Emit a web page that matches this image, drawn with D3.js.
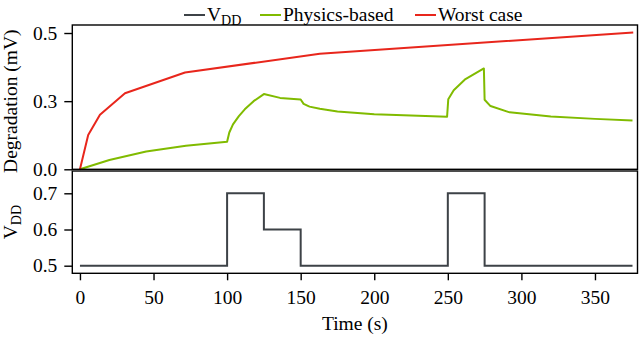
<!DOCTYPE html>
<html><head><meta charset="utf-8">
<script src="https://cdn.jsdelivr.net/npm/d3@7"></script>
<style>body{margin:0;background:#fff}svg{display:block}text{font-family:"Liberation Serif","Times New Roman",serif;fill:#000}</style>
</head><body>
<script>
// ---- data ----
const worstT = [0, 5.6, 13.6, 30.6, 71.4, 163, 376];
const worstV = [0, 0.126, 0.2, 0.279, 0.355, 0.424, 0.502];
const physT = [0, 20, 45, 72, 100, 101.5, 104, 108, 112, 118, 125, 136, 150, 152, 156, 163, 175, 200, 225, 249.5, 250.3, 254, 262, 274.5, 275, 279, 292, 320, 350, 375.5];
const physV = [0, 0.034, 0.065, 0.086, 0.101, 0.135, 0.165, 0.195, 0.22, 0.25, 0.276, 0.262, 0.256, 0.24, 0.23, 0.222, 0.212, 0.202, 0.197, 0.193, 0.257, 0.29, 0.331, 0.37, 0.255, 0.232, 0.209, 0.194, 0.185, 0.179];
const vddT = [0, 100, 125, 150, 250, 275, 375.5];
const vddV = [0.5, 0.7, 0.6, 0.5, 0.7, 0.5, 0.5];
const xTicks = [0, 50, 100, 150, 200, 250, 300, 350];
const topTicks = [0, 0.25, 0.5];
const topTickLabels = ["0.0", "0.3", "0.5"];
const botTicks = [0.5, 0.6, 0.7];
const botTickLabels = ["0.5", "0.6", "0.7"];
const seriesNames = ["V", "Physics-based", "Worst case"];
const colors = {vdd: "#3d4247", phys: "#80bb00", worst: "#e8261c"};

// ---- layout ----
const W = 640, H = 337;
const L = 72.3, R = 637.5;
const topY0 = 25, topY1 = 169.3, botY0 = 171, botY1 = 273.3;
const FS = 19.5;

const svg = d3.select("body").append("svg").attr("width", W).attr("height", H);

const x = d3.scaleLinear().domain([-5.2, 378.9]).range([L, R]);
const yTop = d3.scaleLinear().domain([0, 0.5294]).range([topY1, topY0]);
const yBot = d3.scaleLinear().domain([0.479, 0.7616]).range([botY1, botY0]);

function frame(y0, y1) {
  svg.append("rect").attr("x", L).attr("y", y0).attr("width", R - L).attr("height", y1 - y0)
    .attr("fill", "none").attr("stroke", "#000").attr("stroke-width", 1.4);
}

function styleAxis(g) {
  g.select(".domain").remove();
  g.selectAll(".tick line").attr("stroke", "#000").attr("stroke-width", 1.4);
  g.selectAll(".tick text").attr("font-size", FS).style("font-family", '"Liberation Serif", serif');
}

// top panel lines
const lineTop = d3.line().x(d => x(d[0])).y(d => yTop(d[1]));
svg.append("path").datum(physT.map((t, i) => [t, physV[i]]))
  .attr("d", lineTop).attr("fill", "none").attr("stroke", colors.phys).attr("stroke-width", 2).attr("stroke-linejoin", "round");
svg.append("path").datum(worstT.map((t, i) => [t, worstV[i]]))
  .attr("d", lineTop).attr("fill", "none").attr("stroke", colors.worst).attr("stroke-width", 2).attr("stroke-linejoin", "round");

// bottom panel line
const lineBot = d3.line().x(d => x(d[0])).y(d => yBot(d[1])).curve(d3.curveStepAfter);
svg.append("path").datum(vddT.map((t, i) => [t, vddV[i]]))
  .attr("d", lineBot).attr("fill", "none").attr("stroke", colors.vdd).attr("stroke-width", 2);

frame(topY0, topY1);
frame(botY0, botY1);

// axes
svg.append("g").attr("transform", `translate(${L},0)`)
  .call(d3.axisLeft(yTop).tickValues(topTicks).tickFormat((d, i) => topTickLabels[i]).tickSize(8).tickPadding(7))
  .call(styleAxis);
svg.append("g").attr("transform", `translate(${L},0)`)
  .call(d3.axisLeft(yBot).tickValues(botTicks).tickFormat((d, i) => botTickLabels[i]).tickSize(8).tickPadding(7))
  .call(styleAxis);
svg.append("g").attr("transform", `translate(0,${botY1})`)
  .call(d3.axisBottom(x).tickValues(xTicks).tickFormat(d3.format("d")).tickSize(7).tickPadding(10))
  .call(styleAxis);

// axis labels
svg.append("text").attr("transform", `translate(${(L + R) / 2},330)`).attr("text-anchor", "middle")
  .attr("font-size", FS).text("Time (s)");
svg.append("text").attr("transform", `translate(17,${(topY0 + topY1) / 2 + 4}) rotate(-90)`).attr("text-anchor", "middle")
  .attr("font-size", FS).text("Degradation (mV)");
const vl = svg.append("text").attr("transform", `translate(17,${(botY0 + botY1) / 2}) rotate(-90)`).attr("text-anchor", "middle")
  .attr("font-size", FS);
vl.append("tspan").text("V");
vl.append("tspan").attr("font-size", FS * 0.72).attr("dy", 4).text("DD");

// legend
const legY = 15;
const items = [
  {name: seriesNames[0], sub: "DD", color: colors.vdd, x0: 184},
  {name: seriesNames[1], color: colors.phys, x0: 260},
  {name: seriesNames[2], color: colors.worst, x0: 415}
];
items.forEach(it => {
  svg.append("line").attr("x1", it.x0).attr("x2", it.x0 + 21).attr("y1", legY).attr("y2", legY)
    .attr("stroke", it.color).attr("stroke-width", 2);
  const t = svg.append("text").attr("x", it.x0 + 23).attr("y", legY + 6).attr("font-size", FS);
  t.append("tspan").text(it.name);
  if (it.sub) t.append("tspan").attr("font-size", FS * 0.72).attr("dy", 4).text(it.sub);
});
</script>
</body></html>
